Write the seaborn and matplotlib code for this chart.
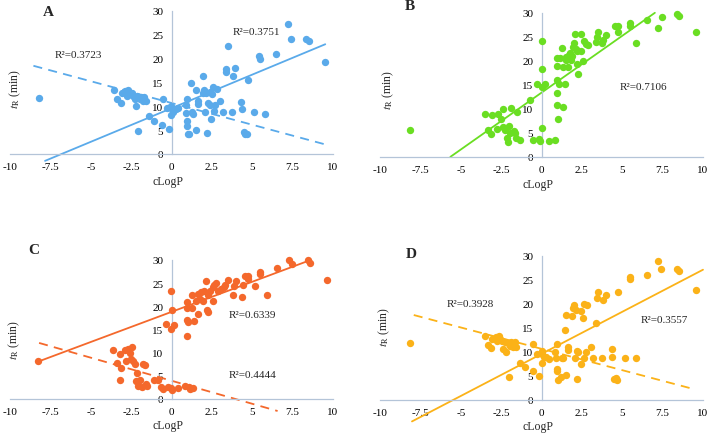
import numpy as np
import matplotlib
matplotlib.use('Agg')
import matplotlib.pyplot as plt
import seaborn as sns

# panel A: tR vs cLogP (blue)
xa = [-8.18, -3.55, -3.35, -3.12, -3.08, -2.87, -2.77, -2.67, -2.56, -2.46, -2.36, -2.25, -2.19, -2.11,
      -2.05, -1.98, -1.9, -1.78, -1.69, -1.57, -1.38, -1.07, -0.56, -0.54, -0.17, -0.29, -0.04, 0.02,
      -0.04, 0.12, 0.27, 0.43, 0.89, 0.95, 0.87, 0.95, 0.95, 1.01, 1.1, 1.22, 1.26, 1.36, 1.49, 1.53,
      1.61, 1.67, 1.94, 1.98, 2.02, 2.07, 2.15, 2.19, 2.23, 2.36, 2.4, 2.44, 2.52, 2.6, 2.64, 2.71,
      2.81, 3.02, 3.18, 3.37, 3.39, 3.47, 3.72, 3.78, 3.95, 4.3, 4.36, 4.5, 4.57, 4.67, 4.71, 5.12,
      5.43, 5.45, 5.81, 6.47, 7.21, 7.4, 8.35, 8.49, 9.52]
ya = [11.8, 13.4, 11.6, 10.7, 12.7, 13.3, 12.2, 13.5, 12.6, 12.9, 12.2, 11.6, 10.0, 12.2,
      4.8, 11.6, 11.9, 11.2, 11.9, 11.2, 7.9, 7.0, 6.0, 11.6, 5.2, 9.6, 10.0, 9.5,
      8.2, 8.8, 9.5, 9.6, 10.3, 11.6, 8.6, 7.0, 5.8, 4.1, 4.2, 14.8, 8.8, 8.4, 13.4, 5.1,
      10.5, 11.2, 12.9, 16.4, 13.5, 8.9, 12.9, 4.4, 10.7, 10.2, 13.1, 7.4, 12.6, 14.0, 9.1, 10.3,
      13.6, 11.2, 8.8, 17.8, 17.1, 22.7, 8.8, 16.4, 18.0, 11.0, 9.5, 4.6, 4.2, 4.2, 15.5, 8.9,
      20.6, 19.9, 8.4, 20.9, 27.2, 24.2, 24.1, 23.7, 19.2]

# panel B (green)
xb = [-8.16, -3.51, -3.31, -3.1, -3.06, -2.75, -2.69, -2.48, -2.4, -2.38, -2.23, -2.13, -2.07, -2.02,
      -1.98, -1.86, -1.71, -1.61, -1.57, -1.49, -1.36, -0.74, -0.52, -0.27, -0.17, -0.1, 0.0, 0.0,
      0.0, 0.06, 0.21, 0.45, 0.83, 0.93, 0.93, 0.97, 0.97, 0.99, 1.03, 1.07, 1.14, 1.24, 1.32, 1.36,
      1.45, 1.49, 1.53, 1.63, 1.69, 1.74, 1.82, 1.9, 1.98, 2.02, 2.09, 2.11, 2.17, 2.21, 2.25, 2.42,
      2.46, 2.56, 2.62, 2.73, 2.85, 3.39, 3.45, 3.51, 3.76, 3.8, 3.97, 4.55, 4.71, 4.73, 5.45, 5.48,
      5.87, 6.51, 7.23, 7.44, 8.41, 8.51, 9.55]
yb = [5.6, 9.0, 5.6, 4.7, 8.7, 5.8, 8.9, 8.0, 10.1, 6.3, 5.6, 4.0, 3.1, 6.5,
      5.1, 10.3, 5.4, 5.1, 4.0, 9.3, 3.5, 11.9, 3.5, 15.3, 3.8, 3.3, 24.1, 18.4,
      6.0, 14.5, 15.2, 3.3, 3.5, 13.3, 16.0, 18.9, 20.7, 10.9, 8.0, 15.2, 20.7, 22.7, 18.8, 10.5,
      15.2, 20.9, 20.3, 18.8, 21.2, 21.6, 20.2, 21.0, 23.0, 23.7, 25.7, 22.5, 22.1, 19.3, 17.3, 22.0,
      25.7, 19.9, 24.2, 23.5, 23.4, 23.9, 24.9, 26.0, 23.7, 24.4, 25.5, 27.2, 27.2, 26.0, 27.9, 27.3,
      23.7, 28.6, 26.9, 29.2, 29.8, 29.4, 26.1]

# panel C (orange-red)
xc = [-8.26, -3.6, -3.39, -3.18, -3.18, -3.14, -2.87, -2.79, -2.69, -2.56, -2.48, -2.42, -2.36, -2.27,
      -2.21, -2.11, -2.07, -1.94, -1.82, -1.78, -1.65, -1.59, -1.49, -1.07, -0.83, -0.62, -0.52, -0.31,
      -0.19, -0.04, 0.0, -0.04, -0.04, 0.0, 0.17, 0.41, 0.85, 0.95, 0.95, 0.95, 0.99, 1.03, 1.1, 1.16,
      1.24, 1.28, 1.36, 1.4, 1.51, 1.61, 1.67, 1.76, 1.82, 1.92, 2.02, 2.11, 2.17, 2.23, 2.27, 2.4,
      2.54, 2.6, 2.64, 2.75, 2.85, 3.06, 3.22, 3.31, 3.47, 3.78, 3.88, 3.99, 4.38, 4.4, 4.55, 4.71,
      4.75, 5.17, 5.48, 5.5, 5.89, 6.53, 7.29, 7.44, 8.47, 8.57, 9.63]
yc = [8.1, 10.5, 7.8, 9.8, 4.0, 6.7, 10.6, 8.3, 10.8, 9.9, 8.7, 11.2, 8.3, 7.6,
      3.9, 5.5, 2.8, 4.2, 2.6, 7.6, 7.3, 3.3, 2.8, 4.0, 4.2, 2.6, 2.2, 16.2,
      2.6, 23.4, 19.1, 15.1, 2.4, 2.0, 15.9, 2.4, 2.7, 13.5, 19.6, 17.1, 20.9, 16.6, 2.6, 2.2,
      22.5, 19.6, 2.4, 16.9, 21.2, 22.7, 18.4, 21.6, 23.0, 21.2, 23.4, 25.4, 19.2, 18.7, 22.5, 23.4,
      24.1, 21.2, 24.7, 25.1, 23.3, 23.8, 24.1, 24.7, 25.6, 22.5, 24.3, 25.4, 22.1, 24.7, 26.5, 25.9,
      26.5, 24.3, 27.5, 27.0, 22.5, 28.2, 29.9, 29.1, 29.9, 29.4, 25.7]

# panel D (amber)
xd = [-8.16, -3.51, -3.31, -3.1, -3.06, -2.81, -2.75, -2.64, -2.54, -2.44, -2.4, -2.27, -2.19, -2.07,
      -2.02, -1.98, -1.86, -1.78, -1.65, -1.55, -1.36, -1.05, -0.54, -0.52, -0.17, -0.27, 0.0, 0.04,
      0.0, 0.17, 0.25, 0.45, 0.83, 0.93, 0.91, 0.97, 0.97, 1.03, 1.18, 1.28, 1.34, 1.45, 1.49, 1.49,
      1.63, 1.65, 1.9, 1.96, 2.0, 2.07, 2.11, 2.17, 2.21, 2.27, 2.42, 2.46, 2.56, 2.62, 2.64, 2.73,
      2.83, 3.04, 3.2, 3.39, 3.43, 3.49, 3.76, 3.8, 3.97, 4.34, 4.38, 4.52, 4.59, 4.69, 4.73, 5.14,
      5.45, 5.48, 5.87, 6.51, 7.23, 7.42, 8.41, 8.51, 9.55]
yd = [11.8, 13.4, 11.5, 10.9, 12.7, 13.2, 12.3, 13.3, 12.8, 12.3, 10.7, 12.1, 9.9, 11.8,
      4.8, 11.3, 12.0, 11.1, 12.0, 11.1, 7.8, 6.9, 6.1, 11.6, 4.9, 9.5, 10.2, 9.5,
      7.7, 9.0, 9.0, 8.5, 10.1, 11.6, 8.8, 6.4, 6.1, 4.2, 4.7, 8.8, 8.7, 14.5, 17.7, 5.2,
      10.4, 11.1, 17.4, 19.1, 19.8, 8.8, 18.8, 10.2, 4.3, 9.9, 18.6, 7.4, 17.0, 8.8, 20.1, 9.9,
      19.8, 11.1, 8.7, 16.1, 21.2, 22.6, 8.7, 20.8, 21.9, 10.7, 9.0, 4.3, 4.5, 4.2, 22.6, 8.7,
      25.3, 25.7, 8.7, 26.0, 29.0, 27.3, 27.3, 26.9, 22.9]

# trend lines: slope, intercept, x start, x end, style, R2 text, text position
fits_a = [(1.41, 9.6, -7.83, 9.52, '-', 'R²=0.3751', (3.8, 25.7)),
          (-0.913, 10.7, -8.55, 9.52, '--', 'R²=0.3723', (-7.25, 20.9))]
fits_b = [(2.37, 13.4, -5.64, 7.02, '-', 'R²=0.7106', (4.86, 14.7))]
fits_c = [(1.30, 18.8, -8.26, 8.53, '-', 'R²=0.6339', (3.53, 18.2)),
          (-0.995, 3.94, -8.2, 6.57, '--', 'R²=0.4444', (3.53, 5.2))]
fits_d = [(1.754, 9.6, -8.02, 10.0, '-', 'R²=0.3557', (6.14, 16.8)),
          (-0.89, 10.66, -7.91, 9.5, '--', 'R²=0.3928', (-5.89, 20.0))]

xticks = [-10, -7.5, -5, -2.5, 0, 2.5, 5, 7.5, 10]
xticklabels = ['-10', '-7.5', '-5', '-2.5', '0', '2.5', '5', '7.5', '10']
yticks = [0, 5, 10, 15, 20, 25, 30]

sns.set_style('white')
plt.rcParams['font.family'] = ['Liberation Serif', 'DejaVu Serif']
plt.rcParams['mathtext.fontset'] = 'stix'

fig = plt.figure(figsize=(7.09, 4.35), dpi=100)

panels = [
    ('A', xa, ya, fits_a, '#5aaaea', [10/709, 0.6437, 323/709, 143/435], (48, 12.5), (0.015, 0.46), 182),
    ('B', xb, yb, fits_b, '#6ade22', [380/709, 0.6368, 323/709, 144/435], (410, 7), (0.025, 0.47), 185),
    ('C', xc, yc, fits_c, '#f4682c', [10/709, 0.0805, 323/709, 139/435], (34, 251), (0.012, 0.43), 426),
    ('D', xd, yd, fits_d, '#fbb218', [380/709, 0.0782, 323/709, 144/435], (411, 254), (0.012, 0.51), 427),
]

spine_col = '#b4c4d8'

for letter, xs, ys, fits, col, rect, lpos, ylpos, xl_y in panels:
    ax = fig.add_axes(rect)
    sns.scatterplot(x=xs, y=ys, ax=ax, color=col, s=28, linewidth=0, clip_on=False, zorder=3)
    for slope, icpt, x0, x1, ls, txt, tpos in fits:
        lx = np.array([x0, x1])
        ly = slope * lx + icpt
        if ls == '--':
            ax.plot(lx, ly, color=col, lw=1.3, ls=(0, (5, 3.5)), clip_on=False, zorder=2)
        else:
            ax.plot(lx, ly, color=col, lw=1.3, clip_on=False, zorder=2)
        ax.text(tpos[0], tpos[1], txt, fontsize=8, ha='left', va='center')
    ax.set_xlim(-10, 10)
    ax.set_ylim(0, 30)
    ax.set_xticks(xticks)
    ax.set_xticklabels(xticklabels)
    ax.set_yticks(yticks)
    ax.spines['left'].set_position(('data', 0))
    ax.spines['bottom'].set_position(('data', 0))
    ax.spines['top'].set_visible(False)
    ax.spines['right'].set_visible(False)
    for sp in ['left', 'bottom']:
        ax.spines[sp].set_color(spine_col)
        ax.spines[sp].set_linewidth(0.9)
    ax.tick_params(axis='both', length=0, labelsize=8, colors='black')
    ax.tick_params(axis='x', pad=6)
    ax.tick_params(axis='y', pad=6)
    ax.set_facecolor('none')
    ax.set_xlabel('cLogP', fontsize=8.5, va='center')
    # xlabel centre given in figure pixels from the top
    axis_px = (1 - rect[1]) * 435
    ax.xaxis.set_label_coords(0.49, (axis_px - xl_y) / (rect[3] * 435))
    ax.set_ylabel(r'$t_{\mathrm{R}}$ (min)', fontsize=8.5, va='center')
    ax.yaxis.set_label_coords(ylpos[0], ylpos[1])
    fig.text(lpos[0] / 709, 1 - lpos[1] / 435, letter, fontsize=11, fontweight='bold',
             ha='center', va='center')

fig.savefig('out.png', dpi=100)
